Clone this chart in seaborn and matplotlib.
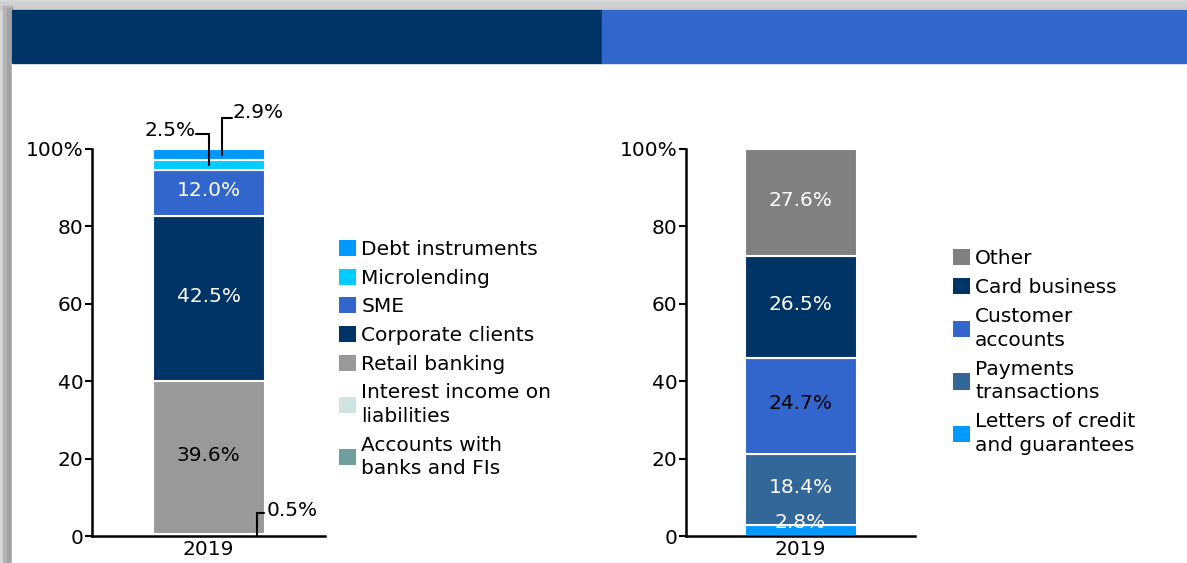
import matplotlib
matplotlib.use("Agg")
import matplotlib.pyplot as plt
from matplotlib.patches import Rectangle, Patch
import seaborn as sns

W, H = 1187, 563

year = ["2019"]

# left panel, stacked from the bottom up
left_names = ["Accounts with\nbanks and FIs", "Interest income on\nliabilities", "Retail banking",
              "Corporate clients", "SME", "Microlending", "Debt instruments"]
left_values = [0.5, 0.0, 39.6, 42.5, 12.0, 2.5, 2.9]

# right panel, stacked from the bottom up
right_names = ["Letters of credit\nand guarantees", "Payments\ntransactions", "Customer\naccounts",
               "Card business", "Other"]
right_values = [2.8, 18.4, 24.7, 26.5, 27.6]

y_ticks = [0, 20, 40, 60, 80, 100]
y_ticklabels = ["0", "20", "40", "60", "80", "100%"]

left_colors = ["#6E9E9E", "#CFE3E0", "#999999", "#003366", "#3366CC", "#00CCFF", "#0099FF"]
left_text = [None, None, "black", "white", "white", None, None]
right_colors = ["#0099FF", "#336699", "#3366CC", "#003366", "#808080"]
right_text = ["white", "white", "black", "white", "white"]

FS = 14.5

sns.set_theme(style="white")
plt.rcParams["font.family"] = ["DejaVu Sans"]
plt.rcParams["text.color"] = "black"

fig = plt.figure(figsize=(W / 100, H / 100), dpi=100, facecolor="#d9d9d9")


def px_rect(x0, y0, x1, y1, color):
    # rectangle in pixel coords (y from top), kept behind the axes
    fig.patches.append(Rectangle((x0 / W, 1 - y1 / H), (x1 - x0) / W, (y1 - y0) / H,
                                 transform=fig.transFigure, color=color, zorder=-5))


# page frame with shadow and header band
px_rect(0, 2, W, 10, "#cfcfcf")
px_rect(3, 6, 12, H, "#b4b4b4")
px_rect(7, 8, 12, H, "#a3a3a3")
px_rect(12, 10, W, H, "white")
px_rect(12, 10, 602, 63, "#003366")
px_rect(602, 10, W, 63, "#3366CC")


def stacked(ax, values, colors, text_colors, bar_w):
    bottoms = []
    cum = 0.0
    for v, c in zip(values, colors):
        bottoms.append(cum)
        if v > 0:
            sns.barplot(x=year, y=[v], bottom=cum, color=c, saturation=1, width=bar_w,
                        edgecolor="white", linewidth=1.5, ax=ax)
        cum += v
    for v, b, tc in zip(values, bottoms, text_colors):
        if tc is None:
            continue
        y = b + v / 2 + (2.2 if v < 5 else 0.6)
        ax.text(0, y, f"{v:.1f}%", ha="center", va="center", color=tc, fontsize=FS)
    ax.set_xlim(-0.5, 0.5)
    ax.set_ylim(0, 100)
    ax.set_yticks(y_ticks)
    ax.set_yticklabels(y_ticklabels)
    ax.set_xlabel("")
    ax.set_ylabel("")
    ax.patch.set_alpha(0)
    for s in ["top", "right"]:
        ax.spines[s].set_visible(False)
    for s in ["left", "bottom"]:
        ax.spines[s].set_color("black")
        ax.spines[s].set_linewidth(1.8)
    ax.tick_params(axis="y", left=True, length=5, width=1.5, color="black", pad=1,
                   labelsize=FS, labelcolor="black")
    ax.tick_params(axis="x", bottom=False, length=0, pad=3, labelsize=FS, labelcolor="black")
    return bottoms


def leader(ax, pts, label, tx, ty, ha):
    xs, ys = zip(*pts)
    ax.plot(xs, ys, color="black", lw=1.5, clip_on=False, solid_joinstyle="miter")
    ax.text(tx, ty, label, ha=ha, va="center", fontsize=FS, color="black", clip_on=False)


axL = fig.add_axes([92 / W, 1 - 536 / H, 233 / W, 387 / H])
bL = stacked(axL, left_values, left_colors, left_text, 112 / 233)

# call-outs for the thin segments
c_debt = bL[6] + left_values[6] / 2
leader(axL, [(0.06, c_debt), (0.06, 108), (0.10, 108)], f"{left_values[6]:.1f}%", 0.102, 109.4, "left")
c_micro = bL[5] + left_values[5] / 2
leader(axL, [(0.0, c_micro), (0.0, 103.9), (-0.055, 103.9)], f"{left_values[5]:.1f}%", -0.057, 104.9, "right")
leader(axL, [(0.21, 0), (0.21, 5.9), (0.24, 5.9)], f"{left_values[0]:.1f}%", 0.25, 6.5, "left")

axR = fig.add_axes([686 / W, 1 - 536 / H, 229 / W, 387 / H])
stacked(axR, right_values, right_colors, right_text, 112 / 229)


def legend(names, colors, x, y, spacing):
    handles = [Patch(facecolor=c, edgecolor="none", label=n)
               for n, c in zip(names[::-1], colors[::-1])]
    leg = fig.legend(handles=handles, loc="upper left", bbox_to_anchor=(x / W, 1 - y / H),
                     frameon=False, fontsize=FS, handlelength=0.85, handleheight=0.85,
                     handletextpad=0.25, labelspacing=spacing, borderpad=0, borderaxespad=0)
    for t in leg.get_texts():
        t.set_linespacing(1.3)


legend(left_names, left_colors, 339, 240, 0.48)
legend(right_names, right_colors, 953, 249, 0.5)

fig.savefig("out.png", dpi=100, facecolor=fig.get_facecolor())
